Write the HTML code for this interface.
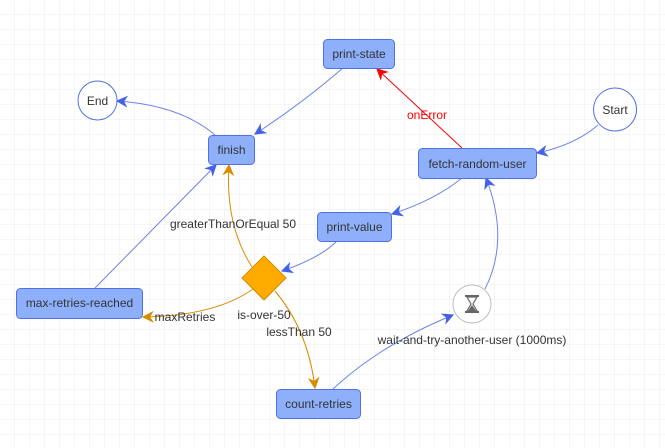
<!DOCTYPE html>
<html><head><style>
html,body{margin:0;padding:0;background:#fff;}
svg{display:block;font-family:"Liberation Sans",sans-serif;}
</style></head><body>
<svg width="665" height="448" viewBox="0 0 665 448" xmlns="http://www.w3.org/2000/svg">
<defs>
<pattern id="g" width="15" height="15" patternUnits="userSpaceOnUse"><path d="M15 0V15H0" fill="none" stroke="#ececec" stroke-width="1"/></pattern>
<marker id="ab" viewBox="0 0 10 10" refX="9" refY="5" markerWidth="12" markerHeight="12" markerUnits="userSpaceOnUse" orient="auto"><path d="M0,0L10,5L0,10L3,5z" fill="#4462e8"/></marker>
<marker id="ar" viewBox="0 0 10 10" refX="9" refY="5" markerWidth="12" markerHeight="12" markerUnits="userSpaceOnUse" orient="auto"><path d="M0,0L10,5L0,10L3,5z" fill="#f00"/></marker>
<marker id="ao" viewBox="0 0 10 10" refX="9" refY="5" markerWidth="12" markerHeight="12" markerUnits="userSpaceOnUse" orient="auto"><path d="M0,0L10,5L0,10L3,5z" fill="#d88c00"/></marker>
</defs>
<rect width="665" height="448" fill="url(#g)"/>
<g fill="none" stroke-width="1">
<path d="M343,68 Q300,105 255,134" stroke="#6b82ee" marker-end="url(#ab)"/>
<path d="M215,135 Q180,105 117,101" stroke="#6b82ee" marker-end="url(#ab)"/>
<path d="M462,148 L377,69" stroke="#f00" marker-end="url(#ar)"/>
<path d="M598,125 Q575,145 537,153" stroke="#6b82ee" marker-end="url(#ab)"/>
<path d="M462,178 Q435,200 392,214" stroke="#6b82ee" marker-end="url(#ab)"/>
<path d="M337,241 Q320,258 282,271" stroke="#6b82ee" marker-end="url(#ab)"/>
<path d="M252,267 Q225,225 229,165" stroke="#d88c00" marker-end="url(#ao)"/>
<path d="M95,288 L216,165" stroke="#6b82ee" marker-end="url(#ab)"/>
<path d="M253,289 Q215,316 143,317" stroke="#d88c00" marker-end="url(#ao)"/>
<path d="M275,291 Q308,330 315,388" stroke="#d88c00" marker-end="url(#ao)"/>
<path d="M333,389 Q380,345 453,315" stroke="#6b82ee" marker-end="url(#ab)"/>
<path d="M485,289 Q510,240 486,178" stroke="#6b82ee" marker-end="url(#ab)"/>
</g>
<g fill="#8eb0fb" stroke="#4f70e6" stroke-width="1">
<rect x="323.5" y="39.5" width="71" height="29" rx="4"/>
<rect x="208.5" y="135.5" width="46" height="29" rx="4"/>
<rect x="418.5" y="148.5" width="118" height="30" rx="4"/>
<rect x="317.5" y="212.5" width="74" height="29" rx="4"/>
<rect x="16.5" y="288.5" width="126" height="30" rx="4"/>
<rect x="276.5" y="389.5" width="84" height="29" rx="4"/>
</g>
<g fill="#fff" stroke="#4f70e6">
<circle cx="97.5" cy="100.5" r="19.5"/>
<circle cx="615" cy="109.5" r="21.5"/>
</g>
<circle cx="472" cy="304" r="19" fill="#fff" stroke="#bbb"/>
<g fill="#666"><rect x="465" y="295" width="14" height="2"/><rect x="465" y="311" width="14" height="2"/>
<path d="M467,297 H477 L473,304 L477,311 H467 L471,304 Z" fill="none" stroke="#666" stroke-width="1.2"/>
<path d="M468,311 L472,305 L476,311Z"/></g>
<path d="M264,256 L286,278 L264,300 L242,278Z" fill="#ffab00" stroke="#d88c00"/>
<g font-size="12" fill="#333" text-anchor="middle">
<text x="359" y="58">print-state</text>
<text x="231.5" y="154">finish</text>
<text x="477.5" y="168">fetch-random-user</text>
<text x="354.5" y="231">print-value</text>
<text x="79.5" y="307">max-retries-reached</text>
<text x="318.5" y="408">count-retries</text>
<text x="97.5" y="105">End</text>
<text x="615" y="114">Start</text>
<text x="427" y="119" fill="#f00">onError</text>
<text x="233" y="228">greaterThanOrEqual 50</text>
<text x="185" y="321">maxRetries</text>
<text x="264" y="319">is-over-50</text>
<text x="299" y="336">lessThan 50</text>
<text x="472" y="344">wait-and-try-another-user (1000ms)</text>
</g>
</svg>
</body></html>
